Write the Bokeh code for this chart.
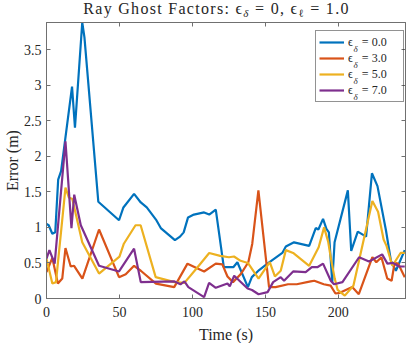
from bokeh.plotting import figure
from bokeh.layouts import column
from bokeh.models import (Range1d, LinearAxis, FixedTicker, Legend, LegendItem, Label,
                          CustomJSTickFormatter, Div)
from bokeh.embed import file_html
from bokeh.resources import INLINE

# ---- data ----
t_d0 = [0, 1.5, 4, 6, 8, 10, 17.5, 19.5, 24.5, 26, 35.5, 49.7, 52.7, 60, 64.6, 68.7, 75, 78.3,
        88, 91.5, 94, 97, 101, 108, 111.5, 116, 121.5, 128, 130.8, 138, 140.7, 145.7, 151.4,
        161.6, 164, 169.6, 180, 184.5, 186.3, 189.5, 191.8, 193.5, 195.8, 197.4, 206.5, 208.8,
        213.3, 219, 223, 226.8, 232.6, 236, 239.4, 245.5]
e_d0 = [1.05, 1.03, 0.91, 0.93, 1.67, 1.79, 2.98, 2.4, 3.88, 3.67, 1.36, 1.1, 1.28, 1.47, 1.35,
        1.28, 1.11, 0.99, 0.82, 0.87, 0.93, 1.14, 1.18, 1.21, 1.18, 1.25, 0.44, 0.44, 0.51, 0.16,
        0.3, 0.40, 0.49, 0.64, 0.73, 0.79, 0.74, 0.99, 0.97, 1.12, 0.98, 0.93, 0.23, 0.79, 1.52,
        0.67, 0.94, 0.87, 1.76, 1.58, 0.96, 0.53, 0.39, 0.68]

t_d3 = [0, 4, 7.8, 10.8, 13, 16.6, 18.9, 24.6, 36, 49.7, 54.3, 60, 64.6, 75, 87.5, 96.6, 108,
        116, 120.5, 124, 127.8, 133, 138.3, 141, 145.2, 152.5, 157, 165.5, 171.5, 181, 183.5,
        190, 194.7, 198, 201, 209.5, 214, 223.3, 226, 229.5, 233.5, 236.5, 238.5, 241, 245.5]
e_d3 = [0.37, 0.57, 0.21, 0.28, 0.71, 0.45, 0.46, 0.28, 0.97, 0.30, 0.34, 0.46, 0.39, 0.21, 0.16,
        0.49, 0.38, 0.49, 0.48, 0.31, 0.23, 0.34, 0.51, 0.77, 1.52, 0.16, 0.16, 0.20, 0.20, 0.24,
        0.25, 0.20, 0.18, 0.07, 0.08, 0.16, 0.06, 0.58, 0.51, 0.58, 0.28, 0.25, 0.50, 0.49, 0.30]

t_d5 = [0, 4, 6.5, 13, 15.3, 17.7, 24.5, 36, 50, 53, 61, 64.5, 74.8, 87.7, 94.5, 103.5, 111.5,
        119, 125, 128.5, 133, 138, 145.3, 153, 156.5, 160.5, 164, 169, 180, 186.5, 190.2, 193,
        195, 197.5, 199.5, 204.4, 210.3, 223.3, 227.2, 231, 233, 237, 242.6, 245.5]
e_d5 = [0.56, 0.21, 0.23, 1.56, 1.42, 1.40, 0.79, 0.35, 0.59, 0.77, 1.03, 1.03, 0.30, 0.23, 0.22,
        0.44, 0.64, 0.60, 0.58, 0.59, 0.53, 0.50, 0.28, 0.51, 0.31, 0.39, 0.68, 0.64, 0.46, 0.72,
        1.00, 0.80, 0.55, 0.28, 0.12, 0.04, 0.18, 1.37, 1.22, 0.83, 0.74, 0.46, 0.64, 0.64]

t_d7 = [0, 2, 5.6, 13, 17.1, 19, 23.5, 36, 49.7, 60, 64.6, 87.7, 91.8, 94.5, 97.2, 108, 111.4,
        116, 124, 125.6, 128.6, 137.8, 140.8, 145.3, 151.5, 155.3, 160.5, 162.8, 169, 177.6,
        181.8, 185.6, 189.5, 194.8, 197, 202.8, 214.2, 221, 230, 233.6, 237.5, 241.6, 245.5]
e_d7 = [0.56, 0.68, 0.49, 2.21, 0.99, 1.46, 1.03, 0.46, 0.38, 0.70, 0.23, 0.24, 0.20, 0.24, 0.16,
        0.02, 0.22, 0.15, 0.21, 0.17, 0.32, 0.14, 0.12, 0.06, 0.09, 0.23, 0.30, 0.25, 0.38, 0.37,
        0.44, 0.44, 0.49, 0.25, 0.20, 0.23, 0.58, 0.52, 0.62, 0.49, 0.50, 0.45, 0.45]

series_labels = ["0.0", "3.0", "5.0", "7.0"]
series_colors = ["#0072BD", "#D95319", "#EDB120", "#7E2F8E"]
x_ticks = [0, 50, 100, 150, 200]
y_ticks = [0, 0.5, 1, 1.5, 2, 2.5, 3, 3.5]

FONT = "Liberation Serif"
AX = "#262626"
FRAME = "#707070"

title_html = (
    "<div style=\"font-family:'Liberation Serif',serif; font-size:16px; line-height:17px;"
    " letter-spacing:1.3px; color:#262626; white-space:nowrap; text-align:center;"
    " box-sizing:border-box; width:399px; padding-left:34px;\">"
    "Ray Ghost Factors: \u03f5<sub style=\"font-size:11px; line-height:0;"
    " vertical-align:-3px; font-style:italic\">\u03b4</sub> = 0, "
    "\u03f5<sub style=\"font-size:11px; line-height:0; vertical-align:-3px\">\u2113</sub>"
    " = 1.0</div>")
title_div = Div(text=title_html, width=399, height=17, margin=0)

p = figure(frame_width=359, frame_height=276, output_backend="svg", toolbar_location=None,
           title=None, x_range=Range1d(0, 246), y_range=Range1d(0, 3.88), margin=0,
           min_border_left=37, min_border_right=3, min_border_top=5, min_border_bottom=44)
p.xgrid.visible = False
p.ygrid.visible = False
p.outline_line_color = FRAME
p.outline_line_width = 1

xt = FixedTicker(ticks=x_ticks)
yt = FixedTicker(ticks=y_ticks)
fmt = CustomJSTickFormatter(code="return String(tick);")
blank = CustomJSTickFormatter(code="return '';")

for ax, tk in ((p.xaxis[0], xt), (p.yaxis[0], yt)):
    ax.ticker = tk
    ax.formatter = fmt
    ax.major_tick_in = 4
    ax.major_tick_out = 0
    ax.minor_tick_line_color = None
    ax.axis_line_color = FRAME
    ax.major_tick_line_color = FRAME
    ax.major_label_text_font = FONT
    ax.major_label_text_font_size = "14px"
    ax.major_label_text_color = AX
    ax.axis_label_text_font = FONT
    ax.axis_label_text_font_size = "16px"
    ax.axis_label_text_font_style = "normal"
    ax.axis_label_text_color = AX

p.xaxis.axis_label = "Time (s)"
p.xaxis.major_label_standoff = 8
p.xaxis.axis_label_standoff = 6
p.yaxis.axis_label = "Error (m)"
p.yaxis.major_label_standoff = 5
p.yaxis.axis_label_standoff = 0

for loc, tk in (("above", xt), ("right", yt)):
    a = LinearAxis(ticker=tk, formatter=blank, major_tick_in=4, major_tick_out=0,
                   minor_tick_line_color=None, major_label_text_font_size="1px",
                   major_label_text_color=None, major_label_standoff=0,
                   axis_line_color=FRAME, major_tick_line_color=FRAME)
    p.add_layout(a, loc)

items = []
for (tt, ee), lab, col in zip(((t_d0, e_d0), (t_d3, e_d3), (t_d5, e_d5), (t_d7, e_d7)),
                              series_labels, series_colors):
    r = p.line(tt, ee, line_color=col, line_width=2.2)
    items.append(LegendItem(label="\u03f5\u00a0\u00a0\u00a0= " + lab, renderers=[r]))

legend = Legend(items=items, location=(269, 196), label_text_font=FONT,
                label_text_font_size="12px", label_text_color=AX, glyph_width=25,
                glyph_height=16, label_height=16, label_standoff=4, spacing=0, padding=3,
                margin=0, border_line_color=AX, border_line_width=1,
                background_fill_alpha=0, label_width=52)
p.add_layout(legend)

# subscripts in legend labels
for i in range(len(series_labels)):
    p.add_layout(Label(x=307, y=250 - 16 * i, x_units="screen", y_units="screen",
                       text="\u03b4", text_font=FONT, text_font_size="9px",
                       text_font_style="italic", level="overlay",
                       text_color=AX, text_baseline="alphabetic"))

layout = column(title_div, p, spacing=0)
open("out.html", "w").write(file_html(layout, INLINE))
